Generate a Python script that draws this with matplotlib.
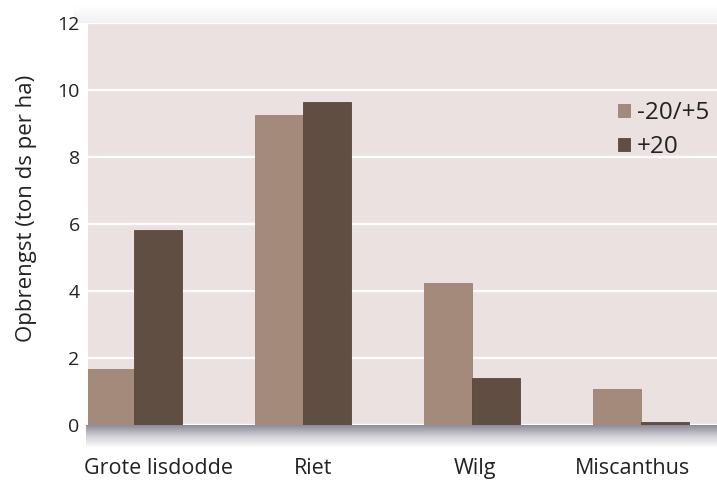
import numpy as np
import matplotlib
matplotlib.use("Agg")
import matplotlib.pyplot as plt
from matplotlib.colors import LinearSegmentedColormap
from matplotlib.transforms import ScaledTranslation

categories = ["Grote lisdodde", "Riet", "Wilg", "Miscanthus"]
series_names = ["-20/+5", "+20"]
low_values = [1.66, 9.25, 4.25, 1.07]
high_values = [5.82, 9.65, 1.39, 0.09]
y_ticks = [0, 2, 4, 6, 8, 10, 12]
y_label = "Opbrengst (ton ds per ha)"

light = "#a38a7a"
dark = "#614e43"
bg = "#ebe1e0"
txt = "#222222"

plt.rcParams["font.family"] = ["Open Sans", "DejaVu Sans"]

fig = plt.figure(figsize=(7.17, 4.83), dpi=100)
fig.patch.set_facecolor("white")

ax_left, ax_bottom = 88 / 717, (483 - 425) / 483
ax_top = (483 - 23) / 483
ax = fig.add_axes([ax_left, ax_bottom, 1.0 - ax_left, ax_top - ax_bottom])
ax.set_facecolor(bg)

x = np.arange(len(categories))
w = 0.285
ax.bar(x - w / 2, low_values, w, color=light, label=series_names[0], zorder=3,
       edgecolor="#9a8272", linewidth=0.6)
ax.bar(x + w / 2, high_values, w, color=dark, label=series_names[1], zorder=3,
       edgecolor="#58463c", linewidth=0.6)

ax.set_ylim(0, 12)
ax.set_xlim(-w * 0.96, 3.45)
ax.set_yticks(y_ticks)
ax.set_yticklabels([str(t) for t in y_ticks], fontsize=14, color=txt)
ax.set_xticks(x)
ax.set_xticklabels(categories, fontsize=15.5, color=txt)
ax.tick_params(axis="y", length=0, pad=6)
ax.tick_params(axis="x", length=0, pad=24)

# category labels sit slightly off their group centres
label_shift_px = [24, 10, 3, -8]
for lab, dx in zip(ax.get_xticklabels(), label_shift_px):
    lab.set_transform(lab.get_transform() + ScaledTranslation(dx / 100, 0, fig.dpi_scale_trans))

ax.yaxis.grid(True, color="white", linewidth=1.6, zorder=1)
ax.set_axisbelow(True)
for s in ax.spines.values():
    s.set_visible(False)
ax.set_ylabel(y_label, fontsize=16, color=txt)
ax.yaxis.set_label_coords(-0.081, 0.54)

leg = ax.legend(loc="upper left", bbox_to_anchor=(0.808, 0.86), frameon=False,
                fontsize=17.5, handlelength=0.48, handleheight=0.48,
                handletextpad=0.3, labelspacing=0.42, labelcolor=txt)

# soft shadow beneath the plot area
shadow = LinearSegmentedColormap.from_list("shadow", ["#8c8c97", "#d2d2d8", "#ffffff"])
sh_ax = fig.add_axes([ax_left - 0.003, (483 - 448) / 483, 1.0, 23 / 483], zorder=-1)
sh_ax.imshow(np.linspace(0, 1, 64).reshape(-1, 1), aspect="auto", cmap=shadow,
             extent=[0, 1, 0, 1])
sh_ax.axis("off")

# faint haze along the top edge
top_cmap = LinearSegmentedColormap.from_list("top", ["#ffffff", "#f1f1f3"])
top_ax = fig.add_axes([ax_left - 0.02, ax_top, 1.0, 18 / 483], zorder=-1)
top_ax.imshow(np.linspace(0, 1, 32).reshape(-1, 1), aspect="auto", cmap=top_cmap,
              extent=[0, 1, 0, 1])
top_ax.axis("off")

fig.savefig("out.png", dpi=100, facecolor="white")
